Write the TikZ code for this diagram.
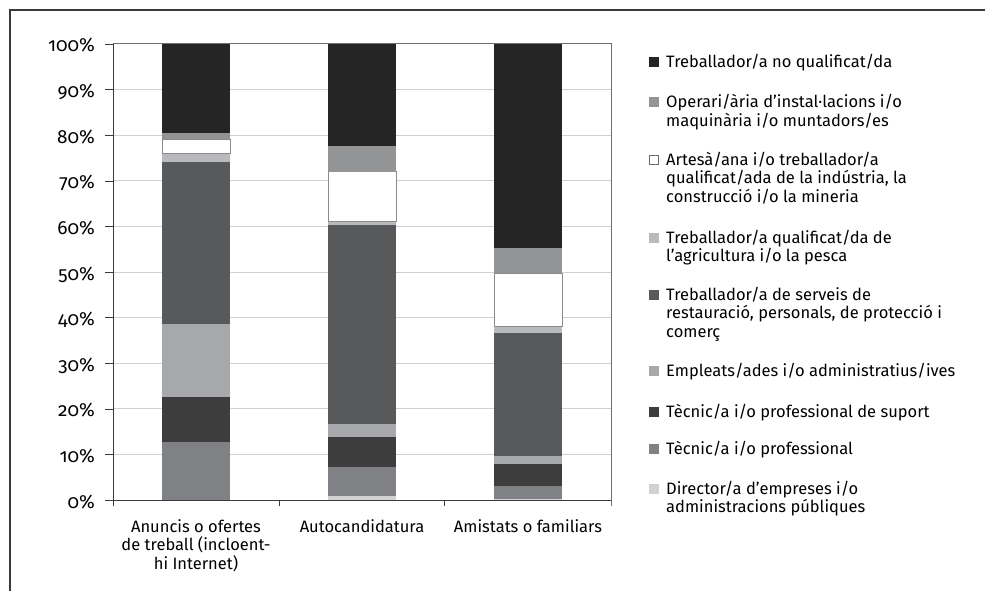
\documentclass[tikz,border=0pt]{standalone}
\usepackage{fontspec}
\setmainfont{Fira Sans}[Numbers=OldStyle]

\definecolor{noqual}{HTML}{262526}
\definecolor{operari}{HTML}{939496}
\definecolor{agri}{HTML}{B9BABD}
\definecolor{serveis}{HTML}{58595B}
\definecolor{empleats}{HTML}{A7A8AB}
\definecolor{tecsup}{HTML}{3D3D3D}
\definecolor{tecprof}{HTML}{808184}
\definecolor{director}{HTML}{D1D2D4}
\definecolor{gridgray}{HTML}{D0D0D0}
\definecolor{axisgray}{HTML}{3A3A3A}
\definecolor{framegray}{HTML}{6E6E6E}

\tikzset{
  noqualseg/.style={fill=noqual},
  operseg/.style={fill=operari},
  artseg/.style={fill=white, draw=framegray!80, line width=1pt},
  agriseg/.style={fill=agri},
  servseg/.style={fill=serveis},
  emplseg/.style={fill=empleats},
  supseg/.style={fill=tecsup},
  profseg/.style={fill=tecprof},
  dirseg/.style={fill=director},
  swatch/.style={minimum size=10pt, inner sep=0pt, draw=none},
  entry/.style={anchor=base west, align=left, inner sep=0pt},
}

\begin{document}
\begin{tikzpicture}[x=1pt, y=-1pt, font=\fontsize{16.5}{18.8}\selectfont]
      \useasboundingbox (0,0) rectangle (985,591);
      %% outer frame
      \draw [axisgray, line width=1.2pt] (10,591) -- (10,10) -- (985,10);
      %% grid lines and y labels
      \foreach \k in {1,...,9}
        \draw [gridgray, line width=1pt] (113,{500-45.6*\k}) -- (611,{500-45.6*\k});
      \foreach \k in {0,...,10} {
        \draw [axisgray] (105,{500-45.6*\k}) -- (113,{500-45.6*\k});
        \node [anchor=base east, inner sep=0pt, font=\fontsize{19}{20}\selectfont] (y\k)
          at (95,{508-45.6*\k}) {\ifnum\k=0 0\else\k0\fi\%};
      }
      %% bars: Anuncis o ofertes de treball
      \foreach \lo/\hi/\st in {0/12.7/profseg, 12.7/22.6/supseg, 22.6/38.6/emplseg,
          38.6/74.1/servseg, 74.1/75.9/agriseg, 75.9/79.1/artseg, 79.1/80.5/operseg,
          80.5/100/noqualseg}
        \path [\st] (162,{500-4.56*\lo}) rectangle (230,{500-4.56*\hi});
      %% bars: Autocandidatura
      \foreach \lo/\hi/\st in {0/0.9/dirseg, 0.9/7.2/profseg, 7.2/13.8/supseg,
          13.8/16.7/emplseg, 16.7/60.3/servseg, 60.3/61.0/agriseg, 61.0/72.0/artseg,
          72.0/77.6/operseg, 77.6/100/noqualseg}
        \path [\st] (328,{500-4.56*\lo}) rectangle (396,{500-4.56*\hi});
      %% bars: Amistats o familiars
      \foreach \lo/\hi/\st in {0/0.3/dirseg, 0.3/3.1/profseg, 3.1/7.9/supseg,
          7.9/9.6/emplseg, 9.6/36.6/servseg, 36.6/38.0/agriseg, 38.0/49.7/artseg,
          49.7/55.3/operseg, 55.3/100/noqualseg}
        \path [\st] (494,{500-4.56*\lo}) rectangle (562,{500-4.56*\hi});
      %% plot frame and axes
      \draw [framegray, line width=1pt] (113,44) -- (611,44) -- (611,506);
      \draw [axisgray, line width=1pt] (113,44) -- (113,506);
      \draw [axisgray, line width=1pt] (113,500) -- (611,500);
      \foreach \x in {279,444}
        \draw [axisgray, line width=1pt] (\x,500) -- (\x,506);
      %% category labels (base = last line)
      \node [anchor=base, align=center, inner sep=0pt] (cat1) at (196,569.6)
        {Anuncis o ofertes\\de treball (incloent-\\hi Internet)};
      \node [anchor=base, inner sep=0pt] (cat2) at (362,532) {Autocandidatura};
      \node [anchor=base, inner sep=0pt] (cat3) at (528,532) {Amistats o familiars};
      %% legend (base = last line)
      \node [swatch, noqualseg] (sw1) at (654,62.5) {};
      \node [entry] (leg1) at (666,68) {Treballador/a no qualificat/da};
      \node [swatch, operseg] (sw2) at (654,102.5) {};
      \node [entry] (leg2) at (666,126.8) {Operari/ària d’instal·lacions i/o\\maquinària i/o muntadors/es};
      \node [swatch, fill=white, draw=framegray, line width=0.8pt, minimum size=9pt] (sw3) at (654,159.5) {};
      \node [entry] (leg3) at (666,202.6) {Artesà/ana i/o treballador/a\\qualificat/ada de la indústria, la\\construcció i/o la mineria};
      \node [swatch, agriseg] (sw4) at (654,237.5) {};
      \node [entry] (leg4) at (666,261.8) {Treballador/a qualificat/da de\\l’agricultura i/o la pesca};
      \node [swatch, servseg] (sw5) at (654,294.5) {};
      \node [entry] (leg5) at (666,337.6) {Treballador/a de serveis de\\restauració, personals, de protecció i\\comerç};
      \node [swatch, emplseg] (sw6) at (654,370.5) {};
      \node [entry] (leg6) at (666,376) {Empleats/ades i/o administratius/ives};
      \node [swatch, supseg] (sw7) at (654,411.5) {};
      \node [entry] (leg7) at (666,417) {Tècnic/a i/o professional de suport};
      \node [swatch, profseg] (sw8) at (654,448.5) {};
      \node [entry] (leg8) at (666,454) {Tècnic/a i/o professional};
      \node [swatch, dirseg] (sw9) at (654,488.5) {};
      \node [entry] (leg9) at (666,512.8) {Director/a d’empreses i/o\\administracions públiques};
    \end{tikzpicture}
\end{document}
